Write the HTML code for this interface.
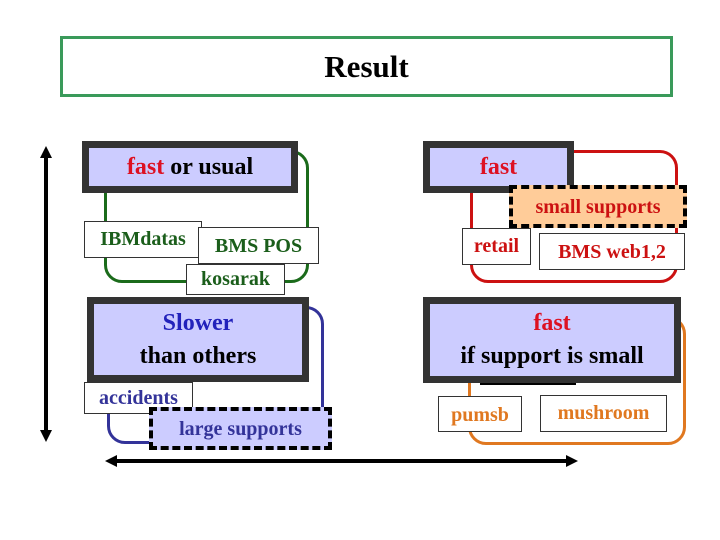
<!DOCTYPE html>
<html><head><style>
body{margin:0;width:720px;height:540px;background:#fff;position:relative;overflow:hidden;font-family:"Liberation Serif",serif;font-weight:bold}
div{position:absolute;box-sizing:border-box}
.dk{border:7px solid #333;background:#ccccff;text-align:center;color:#000;font-size:24px}
.lb{background:#fff;border:1px solid #333;text-align:center;font-size:20px}
.loop{border:3px solid;border-radius:18px}
.ds{border:4px dashed #000;text-align:center;font-size:20px}
</style></head><body>
<div style="left:60px;top:36px;width:613px;height:61px;border:3px solid #3a9a5a;text-align:center;font-size:31px;line-height:56px">Result</div>
<svg style="position:absolute;left:0;top:0" width="720" height="540">
<line x1="46" y1="156" x2="46" y2="432" stroke="#000" stroke-width="4"/>
<polygon points="46,146 40,158 52,158" fill="#000"/><polygon points="46,442 40,430 52,430" fill="#000"/>
<line x1="115" y1="461" x2="568" y2="461" stroke="#000" stroke-width="4"/>
<polygon points="105,461 117,455 117,467" fill="#000"/><polygon points="578,461 566,455 566,467" fill="#000"/>
<line x1="480" y1="384" x2="576" y2="384" stroke="#000" stroke-width="2"/>
</svg>
<div class="loop" style="left:104px;top:150px;width:205px;height:133px;border-color:#1b6b1b"></div>
<div class="dk" style="left:82px;top:141px;width:216px;height:52px;line-height:38px"><span style="color:#dd1122">fast</span> or usual</div>
<div class="lb" style="left:84px;top:221px;width:118px;height:37px;line-height:35px;color:#1b5e1b">IBMdatas</div>
<div class="lb" style="left:198px;top:227px;width:121px;height:37px;line-height:37px;color:#1b5e1b">BMS POS</div>
<div class="lb" style="left:186px;top:264px;width:99px;height:31px;line-height:29px;color:#1b5e1b">kosarak</div>
<div class="loop" style="left:107px;top:306px;width:217px;height:138px;border-color:#333399"></div>
<div class="dk" style="left:87px;top:297px;width:222px;height:85px;line-height:33px;padding-top:3px"><span style="color:#2222bb">Slower</span><br>than others</div>
<div class="lb" style="left:84px;top:382px;width:109px;height:32px;line-height:30px;color:#333399">accidents</div>
<div class="ds" style="left:149px;top:407px;width:183px;height:43px;line-height:36px;background:#ccccff;color:#333399">large supports</div>
<div class="loop" style="left:470px;top:150px;width:208px;height:133px;border-color:#cc1111"></div>
<div class="dk" style="left:423px;top:141px;width:151px;height:52px;line-height:38px;color:#dd1122">fast</div>
<div class="ds" style="left:509px;top:185px;width:178px;height:43px;line-height:36px;background:#ffcc99;color:#cc1111">small supports</div>
<div class="lb" style="left:462px;top:228px;width:69px;height:37px;line-height:35px;color:#cc1111">retail</div>
<div class="lb" style="left:539px;top:233px;width:146px;height:37px;line-height:37px;color:#cc1111">BMS web1,2</div>
<div class="loop" style="left:468px;top:316px;width:218px;height:129px;border-color:#e07820"></div>
<div class="dk" style="left:423px;top:297px;width:258px;height:86px;line-height:33px;padding-top:3px"><span style="color:#dd1122">fast</span><br>if support is small</div>
<div class="lb" style="left:438px;top:396px;width:84px;height:36px;line-height:36px;color:#e07820">pumsb</div>
<div class="lb" style="left:540px;top:395px;width:127px;height:37px;line-height:35px;color:#e07820">mushroom</div>
</body></html>
